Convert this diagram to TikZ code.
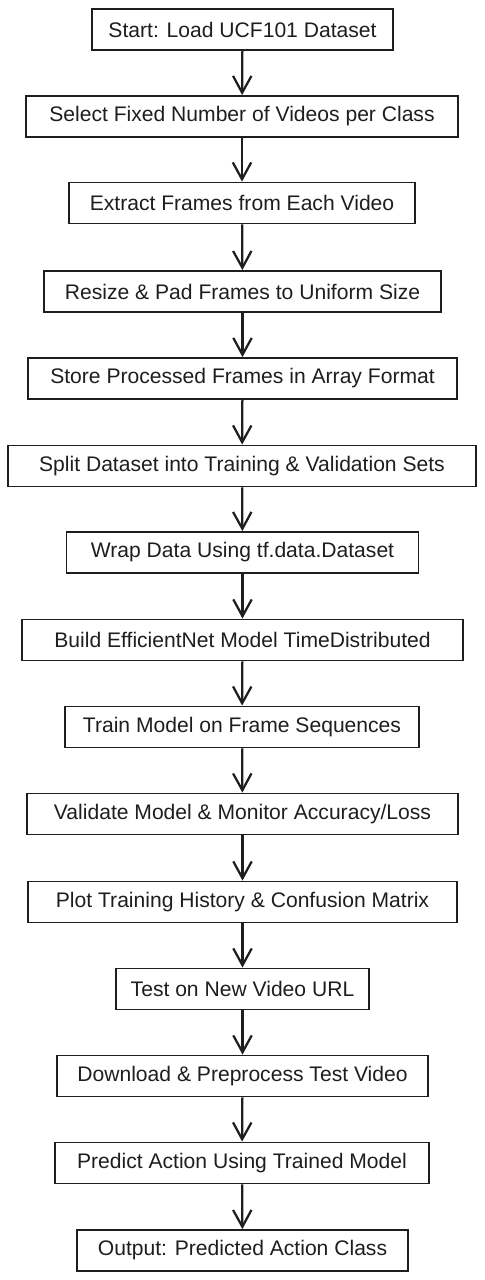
\documentclass[tikz,border=0pt]{standalone}
\usepackage{fontspec}
\setmainfont{Liberation Sans}
\usetikzlibrary{arrows.meta}
\definecolor{ink}{HTML}{1E1E1E}
\begin{document}
\begin{tikzpicture}
        [x=0.025cm, y=-0.025cm,
        >={Straight Barb[length=4.2mm, width=4.6mm]},
        box/.style={rectangle, draw=ink, line width=1.3pt, minimum height=1.025cm, inner sep=0pt, text=ink, font=\fontsize{15}{18}\selectfont},
        arrow/.style={draw=ink, line width=1.6pt, ->}]
        \useasboundingbox (0,0) rectangle (485,1280);
        \node[box, minimum width=7.525cm] (A) at (242.5,29.5) {Start: Load UCF101 Dataset};
        \node[box, minimum width=10.8cm] (B) at (242,116.5) {Select Fixed Number of Videos per Class};
        \node[box, minimum width=8.65cm] (C) at (242,203) {Extract Frames from Each Video};
        \node[box, minimum width=9.925cm] (D) at (242.5,291.5) {Resize \& Pad Frames to Uniform Size};
        \node[box, minimum width=10.725cm] (E) at (242.5,378.5) {Store Processed Frames in Array Format};
        \node[box, minimum width=11.7cm] (F) at (242,466) {Split Dataset into Training \& Validation Sets};
        \node[box, minimum width=8.8cm] (G) at (242.5,552.5) {Wrap Data Using tf.data.Dataset};
        \node[box, minimum width=11.025cm] (H) at (242.5,640) {Build EfficientNet Model TimeDistributed};
        \node[box, minimum width=8.85cm] (I) at (242,727) {Train Model on Frame Sequences};
        \node[box, minimum width=10.775cm] (J) at (242.5,814) {Validate Model \& Monitor Accuracy/Loss};
        \node[box, minimum width=10.725cm] (K) at (242.5,902) {Plot Training History \& Confusion Matrix};
        \node[box, minimum width=6.325cm] (L) at (242.5,989) {Test on New Video URL};
        \node[box, minimum width=9.275cm] (M) at (242.5,1076) {Download \& Preprocess Test Video};
        \node[box, minimum width=9.35cm] (N) at (242,1163) {Predict Action Using Trained Model};
        \node[box, minimum width=8.275cm] (O) at (242.5,1250.5) {Output: Predicted Action Class};

        \draw[arrow] (A) -- (B);
        \draw[arrow] (B) -- (C);
        \draw[arrow] (C) -- (D);
        \draw[arrow] (D) -- (E);
        \draw[arrow] (E) -- (F);
        \draw[arrow] (F) -- (G);
        \draw[arrow] (G) -- (H);
        \draw[arrow] (H) -- (I);
        \draw[arrow] (I) -- (J);
        \draw[arrow] (J) -- (K);
        \draw[arrow] (K) -- (L);
        \draw[arrow] (L) -- (M);
        \draw[arrow] (M) -- (N);
        \draw[arrow] (N) -- (O);

    \end{tikzpicture}
\end{document}
